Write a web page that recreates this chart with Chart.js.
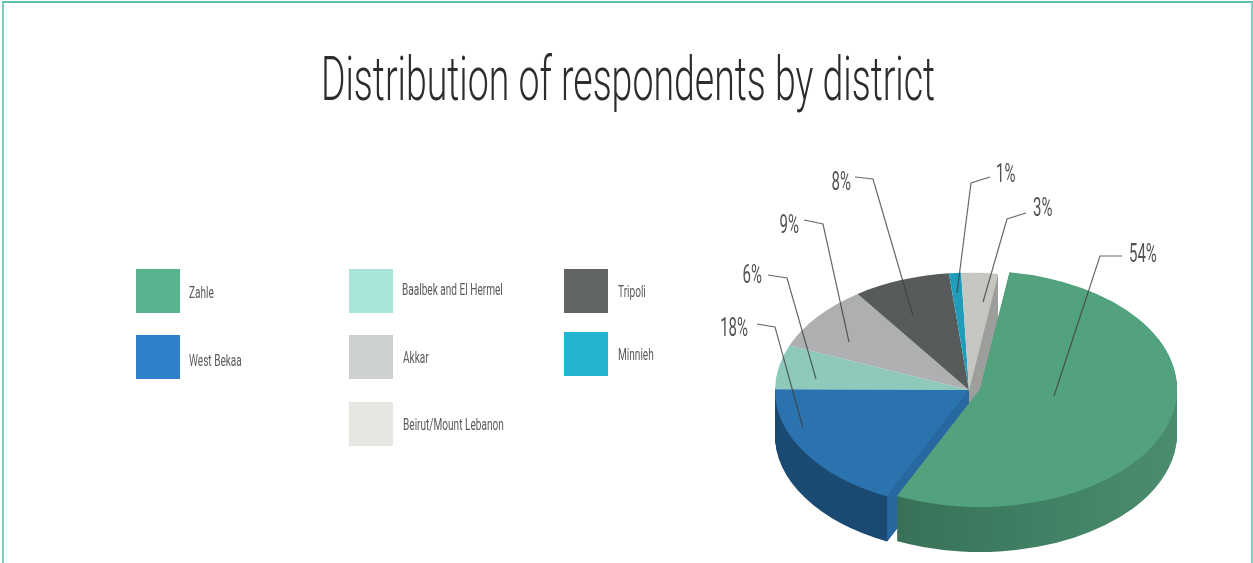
<!DOCTYPE html>
<html>
<head>
<meta charset="utf-8">
<title>Distribution of respondents by district</title>
<style>
  html, body { margin: 0; padding: 0; background: #fff; overflow: hidden; }
  #stage { position: relative; width: 1253px; height: 563px; }
  #frame { position: absolute; left: 2px; top: 1px; right: 0; bottom: 0;
           border-top: 2px solid #5cbfb1; border-left: 2px solid #7dcfc1; border-right: 2px solid #7dd3c6; }
  canvas { position: absolute; left: 0; top: 0; }
</style>
<script src="https://cdn.jsdelivr.net/npm/chart.js@4"></script>
</head>
<body>
<div id="stage">
  <div id="frame"></div>
  <canvas id="chart" width="1253" height="563"></canvas>
</div>
<script>
// Survey results: share of respondents per district, in percent.
const districts = ['Zahle', 'West Bekaa', 'Baalbek and El Hermel', 'Akkar', 'Tripoli', 'Minnieh', 'Beirut/Mount Lebanon'];
const shares = [54, 18, 6, 9, 8, 1, 3];
const chartTitle = 'Distribution of respondents by district';

// Colours of the tilted pie and of the legend swatches.
const sliceColors = ['#53a27e', '#2b73ae', '#8fc9bc', '#adafb0', '#585b5c', '#1f9dbb', '#c5c8c0'];
const legendColors = ['#57b48f', '#2f7fc9', '#a9e5db', '#cdd0d1', '#626566', '#23b4d1', '#e5e8e0'];
const blueWall = '#1b4a72';
const blueCut = '#2768a0';
const greyCut = '#9d9f9d';

// Pie projection: the round pie is flattened and moved to its place on the page.
const pieCentre = { cx: 969, cy: 390, sx: 1, sy: 0.605 };
const zahleCentre = { cx: 980, cy: 389, sx: 197 / 194, sy: 118 / 194 };
const wallDepth = 45;

// Legend layout: swatch corner and label anchor per district.
const swatchSize = 44;
const legendSwatches = [[136, 269], [136, 335], [349, 269], [349, 335], [564, 269], [564, 332], [349, 402]];
const legendLabels = [[189, 294], [189, 362], [402, 291], [403, 359], [618, 293], [618, 356], [403, 426]];

// Callouts per district: label anchor, then leader path from the label to the slice.
const calloutLabels = [[1129, 256, 'left'], [748, 330, 'right'], [762, 277, 'right'], [799, 227, 'right'], [851, 184, 'right'], [996, 176, 'left'], [1033, 210, 'left']];
const calloutPaths = [
  [[1122, 256], [1100, 256], [1054, 396]],
  [[757, 324], [775, 327], [803, 428]],
  [[768, 275], [787, 278], [816, 379]],
  [[804, 220], [823, 224], [849, 342]],
  [[855, 177], [873, 179], [913, 316]],
  [[990, 177], [971, 183], [957, 293]],
  [[1026, 213], [1007, 219], [983, 302]]
];

const textFace = 'Roboto, "Liberation Sans", sans-serif';

function narrowText(ctx, text, x, y, size, condense, color, align, weight) {
  ctx.save();
  ctx.font = (weight || 300) + ' ' + size + 'px ' + textFace;
  ctx.fillStyle = color;
  ctx.textBaseline = 'middle';
  ctx.textAlign = align || 'left';
  ctx.translate(x, y);
  ctx.scale(condense, 1);
  ctx.fillText(text, 0, 0);
  ctx.restore();
}

function project(ctx, arc, place, drop) {
  ctx.translate(place.cx, place.cy + (drop || 0));
  ctx.scale(place.sx, place.sy);
  ctx.translate(-arc.x, -arc.y);
}

function paintArc(ctx, arc, place, fill, drop) {
  const own = arc.options;
  arc.options = Object.assign({}, own, { backgroundColor: fill, borderColor: fill, borderWidth: 0 });
  ctx.save();
  project(ctx, arc, place, drop);
  arc.draw(ctx);
  ctx.restore();
  arc.options = own;
}

function paintWall(ctx, arc, place, fill) {
  for (let d = wallDepth; d >= 1; d--) paintArc(ctx, arc, place, fill, d);
}

// Flat side of a slice, exposed along one of its radial edges by the pulled-out slice.
function paintCut(ctx, arc, place, angle, fill) {
  const rimX = place.cx + arc.outerRadius * Math.cos(angle) * place.sx;
  const rimY = place.cy + arc.outerRadius * Math.sin(angle) * place.sy;
  ctx.save();
  ctx.fillStyle = fill;
  ctx.beginPath();
  ctx.moveTo(place.cx, place.cy);
  ctx.lineTo(rimX, rimY);
  ctx.lineTo(rimX, rimY + wallDepth);
  ctx.lineTo(place.cx, place.cy + wallDepth);
  ctx.closePath();
  ctx.fill();
  ctx.restore();
}

const tiltedPie = {
  id: 'tiltedPie',
  beforeDatasetsDraw(chart) {
    const ctx = chart.ctx;
    const arcs = chart.getDatasetMeta(0).data;
    const zahle = arcs[0], bekaa = arcs[1], beirut = arcs[6];

    const shade = ctx.createLinearGradient(zahle.x - 100, 0, zahle.x + 194, 0);
    shade.addColorStop(0, '#376f56');
    shade.addColorStop(0.55, '#408064');
    shade.addColorStop(1, '#4c8c6e');

    paintWall(ctx, bekaa, pieCentre, blueWall);
    arcs.forEach((arc, i) => { if (i > 1) paintArc(ctx, arc, pieCentre, sliceColors[i]); });
    paintCut(ctx, beirut, pieCentre, beirut.endAngle, greyCut);
    paintCut(ctx, bekaa, pieCentre, bekaa.startAngle, blueCut);
    paintArc(ctx, bekaa, pieCentre, sliceColors[1]);
    paintWall(ctx, zahle, zahleCentre, shade);
    paintArc(ctx, zahle, zahleCentre, sliceColors[0]);
    return false;
  },
  afterDraw(chart) {
    const ctx = chart.ctx;

    narrowText(ctx, chartTitle, 628, 85, 61, 0.614, '#2b2d2e', 'center');

    districts.forEach((name, i) => {
      ctx.fillStyle = legendColors[i];
      ctx.fillRect(legendSwatches[i][0], legendSwatches[i][1], swatchSize, swatchSize);
      narrowText(ctx, name, legendLabels[i][0], legendLabels[i][1], 16, 0.63, '#585b5d', 'left', 400);
    });

    ctx.save();
    ctx.strokeStyle = 'rgba(60,62,62,0.78)';
    ctx.lineWidth = 1.2;
    calloutPaths.forEach(path => {
      ctx.beginPath();
      path.forEach((p, k) => k ? ctx.lineTo(p[0], p[1]) : ctx.moveTo(p[0], p[1]));
      ctx.stroke();
    });
    ctx.restore();

    shares.forEach((v, i) => {
      const a = calloutLabels[i];
      narrowText(ctx, v + '%', a[0], a[1], 25, 0.6, '#505355', a[2], 400);
    });
  }
};

new Chart(document.getElementById('chart'), {
  type: 'pie',
  data: {
    labels: districts,
    datasets: [{ data: shares, backgroundColor: sliceColors, borderWidth: 0 }]
  },
  options: {
    responsive: false,
    animation: false,
    events: [],
    rotation: 8.6,
    layout: { padding: { left: 775, right: 90, top: 87, bottom: 88 } },
    plugins: { legend: { display: false }, tooltip: { enabled: false }, title: { display: false } }
  },
  plugins: [tiltedPie]
});
</script>
</body>
</html>
